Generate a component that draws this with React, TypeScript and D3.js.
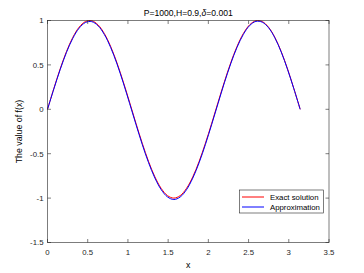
import React from "react";
import * as d3 from "d3";

const xValues = Array.from({ length: 41 }, (_, k) => (k * Math.PI) / 40);
const exactValues = [
  0, 0.2334, 0.454, 0.6494, 0.809, 0.9239, 0.9877, 0.9969, 0.9511, 0.8526,
  0.7071, 0.5225, 0.309, 0.0785, -0.1564, -0.3827, -0.5878, -0.7604, -0.891,
  -0.9724, -1.0, -0.9724, -0.891, -0.7604, -0.5878, -0.3827, -0.1564, 0.0785,
  0.309, 0.5225, 0.7071, 0.8526, 0.9511, 0.9969, 0.9877, 0.9239, 0.809, 0.6494,
  0.454, 0.2334, 0,
];
const approxValues = [
  0, 0.228, 0.446, 0.64, 0.799, 0.913, 0.977, 0.987, 0.941, 0.842, 0.696,
  0.511, 0.297, 0.066, -0.169, -0.396, -0.601, -0.774, -0.905, -0.987, -1.016,
  -0.988, -0.906, -0.775, -0.602, -0.396, -0.169, 0.066, 0.298, 0.512, 0.697,
  0.843, 0.943, 0.99, 0.981, 0.918, 0.804, 0.645, 0.45, 0.231, 0,
];
const xTicks = [0, 0.5, 1, 1.5, 2, 2.5, 3, 3.5];
const yTicks = [-1.5, -1, -0.5, 0, 0.5, 1];
const seriesNames = ["Exact solution", "Approximation"];
const seriesColors = ["#ff0000", "#0000ff"];

const W = 364, H = 273;
const L = 47.5, R = 329, T = 20.5, B = 242.5;
const FONT = "Liberation Sans, Arial, Helvetica, sans-serif";
const AX = "#262626";

export default function App() {
  const x = d3.scaleLinear().domain([0, 3.5]).range([L, R]);
  const y = d3.scaleLinear().domain([-1.5, 1]).range([B, T]);
  const line = d3
    .line<number>()
    .x((_, i) => x(xValues[i]))
    .y((d) => y(d))
    .curve(d3.curveCatmullRom.alpha(0.5));
  const series = [exactValues, approxValues];
  const tl = 3.5;
  return (
    <svg
      width={W}
      height={H}
      style={{ position: "fixed", left: 0, top: 0, background: "#fff" }}
      fontFamily={FONT}
    >
      <rect x={0} y={0} width={W} height={H} fill="#fff" />
      {series.map((s, i) => (
        <path key={i} d={line(s) || ""} fill="none" stroke={seriesColors[i]} strokeWidth={1} />
      ))}
      <rect x={L} y={T} width={R - L} height={B - T} fill="none" stroke={AX} strokeWidth={0.6} />
      {xTicks.map((t) => (
        <g key={"x" + t}>
          <line x1={x(t)} x2={x(t)} y1={B} y2={B - tl} stroke={AX} strokeWidth={0.6} />
          <line x1={x(t)} x2={x(t)} y1={T} y2={T + tl} stroke={AX} strokeWidth={0.6} />
          <text x={x(t)} y={B + 12} fontSize={7.8} textAnchor="middle" fill={AX}>
            {t}
          </text>
        </g>
      ))}
      {yTicks.map((t) => (
        <g key={"y" + t}>
          <line x1={L} x2={L + tl} y1={y(t)} y2={y(t)} stroke={AX} strokeWidth={0.6} />
          <line x1={R} x2={R - tl} y1={y(t)} y2={y(t)} stroke={AX} strokeWidth={0.6} />
          <text x={L - 4} y={y(t) + 2.8} fontSize={7.8} textAnchor="end" fill={AX}>
            {t}
          </text>
        </g>
      ))}
      <text x={(L + R) / 2} y={T - 4.5} fontSize={8.6} textAnchor="middle" fill="#000">
        P=1000,H=0.9,<tspan fontStyle="italic">δ</tspan>=0.001
      </text>
      <text x={(L + R) / 2} y={268} fontSize={8.8} textAnchor="middle" fill="#000">
        x
      </text>
      <text
        transform={`translate(22,${(T + B) / 2}) rotate(-90)`}
        fontSize={8.8}
        textAnchor="middle"
        fill="#000"
      >
        The value of f(x)
      </text>
      <g>
        <rect x={239.5} y={190} width={84} height={23} fill="#fff" stroke={AX} strokeWidth={0.6} />
        {seriesNames.map((n, i) => (
          <g key={n}>
            <line x1={242} x2={264} y1={197 + i * 10} y2={197 + i * 10} stroke={seriesColors[i]} strokeWidth={1} />
            <text x={270} y={200 + i * 10} fontSize={7.8} fill="#000">
              {n}
            </text>
          </g>
        ))}
      </g>
    </svg>
  );
}
